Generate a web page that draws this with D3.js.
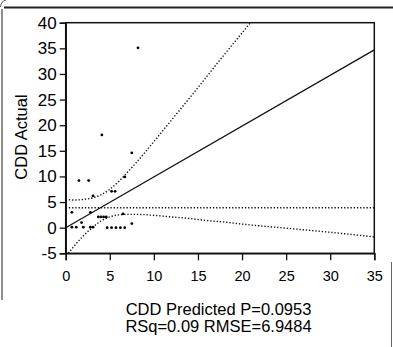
<!DOCTYPE html>
<html>
<head>
<meta charset="utf-8">
<script src="https://cdn.jsdelivr.net/npm/d3@7"></script>
<style>
  body { margin: 0; background: #fff; }
  svg { display: block; font-family: Arial, "Liberation Sans", sans-serif; }
</style>
</head>
<body>
<div id="chart"></div>
<script>
// 散点 (predicted, actual)
const predicted = [1.5, 2.6, 3.1, 0.7, 2.8, 3.7, 4.0, 4.3, 4.6, 0.7, 1.2, 2.0, 2.8, 3.1, 1.8,
                   6.7, 5.2, 5.6, 6.5, 4.7, 5.2, 5.7, 6.2, 6.7, 7.5, 7.5, 8.2, 4.1]
const actual    = [9.2, 9.2, 6.2, 3.0, 3.0, 2.1, 2.1, 2.1, 2.1, 0.1, 0.1, 0.1, 0.1, 0.1, 1.0,
                   9.9, 7.1, 7.1, 2.7, 0.0, 0.0, 0.0, 0.0, 0.0, 0.8, 14.6, 35.1, 18.1]
// 拟合线
const fitX = [0, 35]
const fitY = [0.0, 34.7]
// 均值线
const meanY = 3.9
// 置信曲线
const upperX = [0, 1, 2, 3, 4, 5, 6, 7, 8, 10, 12, 14, 16, 18, 20, 21]
const upperY = [5.5, 5.4, 5.5, 5.8, 6.4, 7.5, 9.0, 10.8, 12.7, 16.8, 21.0, 25.2, 29.5, 33.8, 38.0, 40.1]
const lowerX = [0.3, 1, 2, 3, 4, 5, 6, 7, 8, 10, 12, 14, 16, 18, 20, 25, 30, 35]
const lowerY = [-5.0, -3.5, -1.6, 0.0, 1.3, 2.1, 2.5, 2.6, 2.6, 2.4, 2.1, 1.8, 1.4, 1.1, 0.7, -0.1, -0.9, -1.8]
// 刻度
const xTicks = [0, 5, 10, 15, 20, 25, 30, 35]
const yTicks = [-5, 0, 5, 10, 15, 20, 25, 30, 35, 40]
const xTitle = ['CDD Predicted P=0.0953', 'RSq=0.09 RMSE=6.9484']
const yTitle = 'CDD Actual'

var width = 393, height = 347
var margin = {left: 65.7, top: 22.7, right: 18.7, bottom: 93.7}

var svg = d3.select('#chart')
    .append('svg')
    .attr('width', width)
    .attr('height', height)

var scale_x = d3.scaleLinear()
    .domain([0, 35])
    .range([margin.left, width - margin.right])
var scale_y = d3.scaleLinear()
    .domain([-5, 40])
    .range([height - margin.bottom, margin.top])

// 外框
svg.append('line')
    .attr('x1', 4).attr('y1', 7.5).attr('x2', width).attr('y2', 7.5)
    .attr('stroke', '#222').attr('stroke-width', 2)
svg.append('line')
    .attr('x1', 2).attr('y1', 9).attr('x2', 2).attr('y2', 300)
    .attr('stroke', '#444').attr('stroke-width', 1.2)
svg.append('path')
    .attr('d', 'M0.5,7 Q1,1 6,0')
    .attr('fill', 'none').attr('stroke', '#555').attr('stroke-width', 1)
svg.append('line')
    .attr('x1', 391.5).attr('y1', 262).attr('x2', 391.5).attr('y2', height)
    .attr('stroke', '#666').attr('stroke-width', 1)

svg.append('clipPath').attr('id', 'clip')
    .append('rect')
    .attr('x', scale_x(0)).attr('y', scale_y(40))
    .attr('width', scale_x(35) - scale_x(0))
    .attr('height', scale_y(-5) - scale_y(40))

var plot = svg.append('g').attr('clip-path', 'url(#clip)')

var line = d3.line()
    .x(d => scale_x(d[0]))
    .y(d => scale_y(d[1]))
    .curve(d3.curveMonotoneX)

// 置信曲线
plot.append('path')
    .datum(upperX.map((v, i) => [v, upperY[i]]))
    .attr('d', line)
    .attr('fill', 'none').attr('stroke', '#111')
    .attr('stroke-width', 1.4).attr('stroke-dasharray', '1.3,1.9')
plot.append('path')
    .datum(lowerX.map((v, i) => [v, lowerY[i]]))
    .attr('d', line)
    .attr('fill', 'none').attr('stroke', '#111')
    .attr('stroke-width', 1.4).attr('stroke-dasharray', '1.3,1.9')
// 均值线
plot.append('line')
    .attr('x1', scale_x(0)).attr('x2', scale_x(35))
    .attr('y1', scale_y(meanY)).attr('y2', scale_y(meanY))
    .attr('stroke', '#111').attr('stroke-width', 1.4).attr('stroke-dasharray', '1.3,1.9')
// 拟合线
plot.append('line')
    .attr('x1', scale_x(fitX[0])).attr('y1', scale_y(fitY[0]))
    .attr('x2', scale_x(fitX[1])).attr('y2', scale_y(fitY[1]))
    .attr('stroke', '#111').attr('stroke-width', 1.2)

// 画散点
plot.selectAll('circle')
    .data(predicted.map((v, i) => [v, actual[i]]))
    .enter()
    .append('circle')
    .attr('r', 1.4)
    .attr('fill', '#000')
    .attr('cx', d => scale_x(d[0]))
    .attr('cy', d => scale_y(d[1]))

// 图框
svg.append('rect')
    .attr('x', scale_x(0)).attr('y', scale_y(40))
    .attr('width', scale_x(35) - scale_x(0))
    .attr('height', scale_y(-5) - scale_y(40))
    .attr('fill', 'none').attr('stroke', '#111').attr('stroke-width', 1.5)

//设置xy轴
var x_axis = d3.axisBottom(scale_x).tickValues(xTicks).tickSize(7).tickPadding(10)
    .tickFormat(d => String(d))
var y_axis = d3.axisLeft(scale_y).tickValues(yTicks).tickSize(6).tickPadding(3)
    .tickFormat(d => String(d))

var gx = svg.append('g')
    .attr('transform', `translate(0,${scale_y(-5)})`)
    .call(x_axis)
var gy = svg.append('g')
    .attr('transform', `translate(${scale_x(0)},0)`)
    .call(y_axis)
;[gx, gy].forEach(g => {
    g.select('.domain').attr('stroke', '#111').attr('stroke-width', 1.5)
    g.selectAll('.tick line').attr('stroke', '#111').attr('stroke-width', 1.3)
    g.selectAll('.tick text').attr('fill', '#000').attr('font-family', 'Arial, "Liberation Sans", sans-serif')
})
gx.selectAll('.tick text').attr('font-size', 14.5)
gy.selectAll('.tick text').attr('font-size', 17)

// 标题
svg.append('text')
    .attr('transform', `translate(27,137) rotate(-90)`)
    .attr('text-anchor', 'middle')
    .attr('font-size', 16.5)
    .attr('fill', '#000')
    .text(yTitle)
svg.selectAll('.xtitle')
    .data(xTitle)
    .enter()
    .append('text')
    .attr('class', 'xtitle')
    .attr('x', 218.5)
    .attr('y', (d, i) => 315 + i * 16.5)
    .attr('text-anchor', 'middle')
    .attr('font-size', 16.5)
    .attr('fill', '#000')
    .text(d => d)
</script>
</body>
</html>
